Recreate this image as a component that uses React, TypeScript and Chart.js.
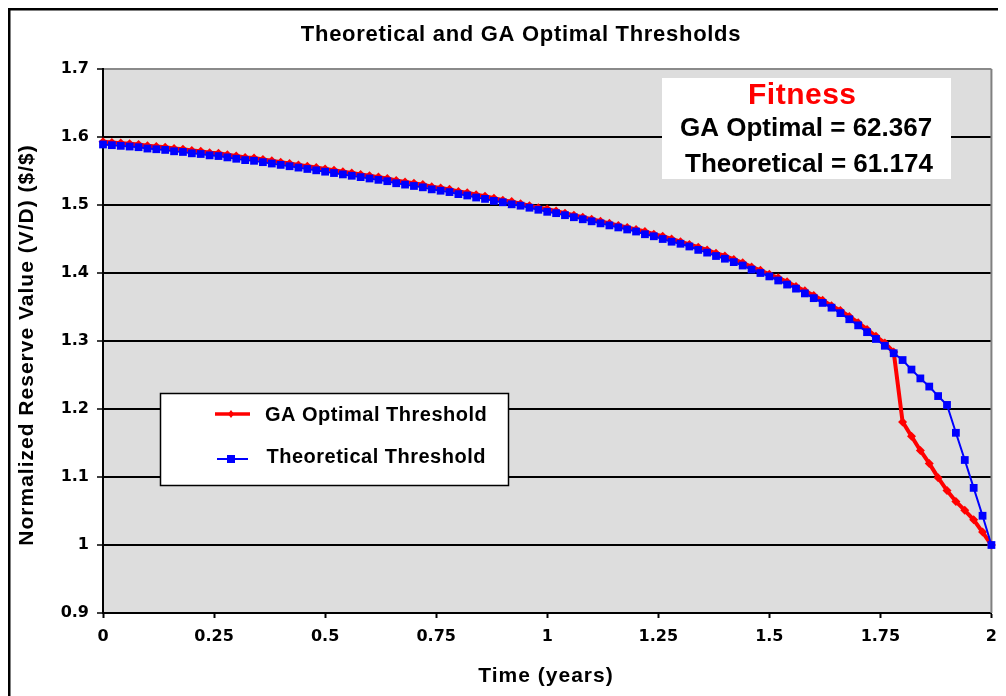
import React, { useEffect, useRef } from 'react';
import { Chart, registerables } from 'chart.js';

Chart.register(...registerables);

const chartTitle = 'Theoretical and GA Optimal Thresholds';
const xAxisTitle = 'Time (years)';
const yAxisTitle = 'Normalized Reserve Value (V/D) ($/$)';
const seriesNames = ['GA Optimal Threshold', 'Theoretical Threshold'];
const fitnessHeading = 'Fitness';
const fitnessLines = ['GA Optimal = 62.367', 'Theoretical = 61.174'];

const xTickValues = [0, 0.25, 0.5, 0.75, 1, 1.25, 1.5, 1.75, 2];
const yTickValues = [0.9, 1, 1.1, 1.2, 1.3, 1.4, 1.5, 1.6, 1.7];

const times = [
  0, 0.02, 0.04, 0.06, 0.08, 0.1, 0.12, 0.14, 0.16, 0.18,
  0.2, 0.22, 0.24, 0.26, 0.28, 0.3, 0.32, 0.34, 0.36, 0.38,
  0.4, 0.42, 0.44, 0.46, 0.48, 0.5, 0.52, 0.54, 0.56, 0.58,
  0.6, 0.62, 0.64, 0.66, 0.68, 0.7, 0.72, 0.74, 0.76, 0.78,
  0.8, 0.82, 0.84, 0.86, 0.88, 0.9, 0.92, 0.94, 0.96, 0.98,
  1, 1.02, 1.04, 1.06, 1.08, 1.1, 1.12, 1.14, 1.16, 1.18,
  1.2, 1.22, 1.24, 1.26, 1.28, 1.3, 1.32, 1.34, 1.36, 1.38,
  1.4, 1.42, 1.44, 1.46, 1.48, 1.5, 1.52, 1.54, 1.56, 1.58,
  1.6, 1.62, 1.64, 1.66, 1.68, 1.7, 1.72, 1.74, 1.76, 1.78,
  1.8, 1.82, 1.84, 1.86, 1.88, 1.9, 1.92, 1.94, 1.96, 1.98,
  2,
];

const gaOptimal = [
  1.593, 1.592, 1.591, 1.590, 1.589, 1.587, 1.586, 1.585, 1.583, 1.582,
  1.580, 1.579, 1.577, 1.576, 1.574, 1.572, 1.570, 1.569, 1.567, 1.565,
  1.563, 1.561, 1.559, 1.557, 1.555, 1.553, 1.551, 1.549, 1.547, 1.545,
  1.543, 1.541, 1.539, 1.536, 1.534, 1.532, 1.530, 1.527, 1.525, 1.523,
  1.520, 1.518, 1.515, 1.513, 1.510, 1.507, 1.505, 1.502, 1.499, 1.496,
  1.494, 1.491, 1.488, 1.485, 1.482, 1.479, 1.476, 1.473, 1.470, 1.467,
  1.464, 1.461, 1.457, 1.454, 1.450, 1.446, 1.442, 1.438, 1.434, 1.429,
  1.425, 1.420, 1.415, 1.409, 1.404, 1.398, 1.393, 1.387, 1.380, 1.374,
  1.367, 1.360, 1.352, 1.345, 1.336, 1.327, 1.317, 1.307, 1.297, 1.284,
  1.181, 1.160, 1.139, 1.120, 1.099, 1.080, 1.064, 1.051, 1.037, 1.019,
  1.000,
];

const theoretical = [
  1.589, 1.588, 1.587, 1.586, 1.585, 1.583, 1.582, 1.581, 1.579, 1.578,
  1.576, 1.575, 1.573, 1.572, 1.570, 1.568, 1.566, 1.565, 1.563, 1.561,
  1.559, 1.557, 1.555, 1.553, 1.551, 1.549, 1.547, 1.545, 1.543, 1.541,
  1.539, 1.537, 1.535, 1.532, 1.530, 1.528, 1.526, 1.523, 1.521, 1.519,
  1.516, 1.514, 1.511, 1.509, 1.506, 1.504, 1.501, 1.499, 1.496, 1.493,
  1.490, 1.488, 1.485, 1.482, 1.479, 1.476, 1.473, 1.470, 1.467, 1.464,
  1.461, 1.457, 1.454, 1.450, 1.446, 1.443, 1.439, 1.434, 1.430, 1.425,
  1.421, 1.416, 1.411, 1.405, 1.400, 1.395, 1.389, 1.383, 1.377, 1.370,
  1.363, 1.356, 1.349, 1.341, 1.332, 1.323, 1.313, 1.303, 1.293, 1.282,
  1.272, 1.258, 1.245, 1.233, 1.219, 1.206, 1.165, 1.125, 1.084, 1.043,
  1.000,
];

const RED = '#ff0000';
const BLUE = '#0000ff';
const LABEL_FONT = '"Liberation Sans", Arial, sans-serif';
const TICK_FONT = '"DejaVu Sans", Verdana, sans-serif';

const decorPlugin = {
  id: 'decor',
  beforeDraw(chart: any) {
    const { ctx, chartArea: a, width, height } = chart;
    ctx.save();
    ctx.fillStyle = '#ffffff';
    ctx.fillRect(0, 0, width, height);
    ctx.fillStyle = '#dddddd';
    ctx.fillRect(a.left, a.top, a.right - a.left, a.bottom - a.top);
    ctx.fillStyle = '#000000';
    ctx.fillRect(0, 0, 2.5, height);
    ctx.fillRect(0, 0, width, 2.5);

    ctx.fillStyle = '#000000';
    ctx.textBaseline = 'alphabetic';
    ctx.textAlign = 'center';
    ctx.font = `bold 22px ${LABEL_FONT}`;
    (ctx as any).letterSpacing = '0.7px';
    ctx.fillText(chartTitle, 513, 33);

    ctx.font = `bold 21px ${LABEL_FONT}`;
    (ctx as any).letterSpacing = '1px';
    ctx.fillText(xAxisTitle, 538, 674);

    ctx.save();
    ctx.translate(25, 337);
    ctx.rotate(-Math.PI / 2);
    ctx.fillText(yAxisTitle, 0, 0);
    ctx.restore();
    ctx.restore();
  },
  beforeDatasetsDraw(chart: any) {
    const { ctx, chartArea: a } = chart;
    ctx.save();
    ctx.strokeStyle = '#808080';
    ctx.lineWidth = 2;
    ctx.beginPath();
    ctx.moveTo(a.right, a.top);
    ctx.lineTo(a.right, a.bottom);
    ctx.stroke();
    ctx.restore();
  },
  afterDraw(chart: any) {
    const { ctx } = chart;
    ctx.save();
    // legend box
    ctx.fillStyle = '#ffffff';
    ctx.fillRect(152, 385, 349, 93);
    ctx.strokeStyle = '#000000';
    ctx.lineWidth = 1.5;
    ctx.strokeRect(152.5, 385.5, 348, 92);

    ctx.strokeStyle = RED;
    ctx.lineWidth = 3.5;
    ctx.beginPath();
    ctx.moveTo(207, 406);
    ctx.lineTo(242, 406);
    ctx.stroke();
    ctx.fillStyle = RED;
    ctx.beginPath();
    ctx.moveTo(223, 402);
    ctx.lineTo(226, 406);
    ctx.lineTo(223, 410);
    ctx.lineTo(220, 406);
    ctx.closePath();
    ctx.fill();

    ctx.strokeStyle = BLUE;
    ctx.lineWidth = 2;
    ctx.beginPath();
    ctx.moveTo(209, 451);
    ctx.lineTo(240, 451);
    ctx.stroke();
    ctx.fillStyle = BLUE;
    ctx.fillRect(219, 447, 8, 8);

    ctx.fillStyle = '#000000';
    ctx.textAlign = 'left';
    ctx.textBaseline = 'alphabetic';
    ctx.font = `bold 20px ${LABEL_FONT}`;
    (ctx as any).letterSpacing = '0.5px';
    ctx.fillText(seriesNames[0], 257, 412.5);
    ctx.fillText(seriesNames[1], 258.5, 455);

    // fitness box
    ctx.fillStyle = '#ffffff';
    ctx.fillRect(654, 70, 289, 101);
    ctx.fillStyle = RED;
    ctx.font = `bold 30px ${LABEL_FONT}`;
    (ctx as any).letterSpacing = '0.5px';
    ctx.fillText(fitnessHeading, 740, 96);
    ctx.fillStyle = '#000000';
    ctx.font = `bold 26px ${LABEL_FONT}`;
    (ctx as any).letterSpacing = '0px';
    ctx.fillText(fitnessLines[0], 672, 128);
    ctx.fillText(fitnessLines[1], 677, 163.5);
    ctx.restore();
  },
};

export default function App() {
  const canvasRef = useRef<HTMLCanvasElement | null>(null);

  useEffect(() => {
    document.documentElement.style.overflow = 'hidden';
    const canvas = canvasRef.current;
    if (!canvas) return;
    const chart = new Chart(canvas, {
      type: 'line',
      data: {
        datasets: [
          {
            label: seriesNames[1],
            data: times.map((t, i) => ({ x: t, y: theoretical[i] })),
            borderColor: BLUE,
            backgroundColor: BLUE,
            borderWidth: 2,
            pointStyle: 'rect',
            pointRadius: 5.5,
            pointBorderWidth: 0,
            pointBackgroundColor: BLUE,
            pointBorderColor: BLUE,
            tension: 0,
            clip: false as any,
          },
          {
            label: seriesNames[0],
            data: times.map((t, i) => ({ x: t, y: gaOptimal[i] })),
            borderColor: RED,
            backgroundColor: RED,
            borderWidth: 4,
            pointStyle: 'rectRot',
            pointRadius: 4.5,
            pointBorderWidth: 0,
            pointBackgroundColor: RED,
            pointBorderColor: RED,
            tension: 0,
            clip: false as any,
          },
        ],
      },
      options: {
        animation: false,
        responsive: false,
        maintainAspectRatio: false,
        devicePixelRatio: 1,
        layout: { padding: { top: 61, right: 10, bottom: 0, left: 0 } },
        plugins: {
          legend: { display: false },
          title: { display: false },
          tooltip: { enabled: false },
        },
        events: [],
        scales: {
          x: {
            type: 'linear',
            min: 0,
            max: 2,
            afterBuildTicks: (axis: any) => {
              axis.ticks = xTickValues.map((v) => ({ value: v }));
            },
            afterFit: (axis: any) => {
              axis.height = 83;
            },
            ticks: {
              autoSkip: false,
              maxRotation: 0,
              padding: 9,
              color: '#000000',
              font: { family: TICK_FONT, size: 16, weight: 'bold' },
              callback: (v: any) => String(v),
            },
            grid: {
              drawOnChartArea: false,
              drawTicks: true,
              tickLength: 5,
              tickColor: '#000000',
              tickWidth: 2,
              color: '#000000',
            },
            border: { display: true, color: '#000000', width: 2 },
          },
          y: {
            type: 'linear',
            min: 0.9,
            max: 1.7,
            afterBuildTicks: (axis: any) => {
              axis.ticks = yTickValues.map((v) => ({ value: v }));
            },
            afterFit: (axis: any) => {
              axis.width = 95;
            },
            ticks: {
              padding: 8,
              color: '#000000',
              font: { family: TICK_FONT, size: 16, weight: 'bold' },
              callback: (v: any) => String(v),
            },
            grid: {
              drawTicks: true,
              tickLength: 6,
              tickColor: '#000000',
              tickWidth: 1.5,
              lineWidth: 2,
              color: (c: any) => (c.tick && c.tick.value === 1.7 ? '#8a8a8a' : '#000000'),
            },
            border: { display: true, color: '#000000', width: 2 },
          },
        },
      } as any,
      plugins: [decorPlugin],
    });
    return () => chart.destroy();
  }, []);

  return <canvas ref={canvasRef} width={998} height={688} style={{ display: 'block' }} />;
}
